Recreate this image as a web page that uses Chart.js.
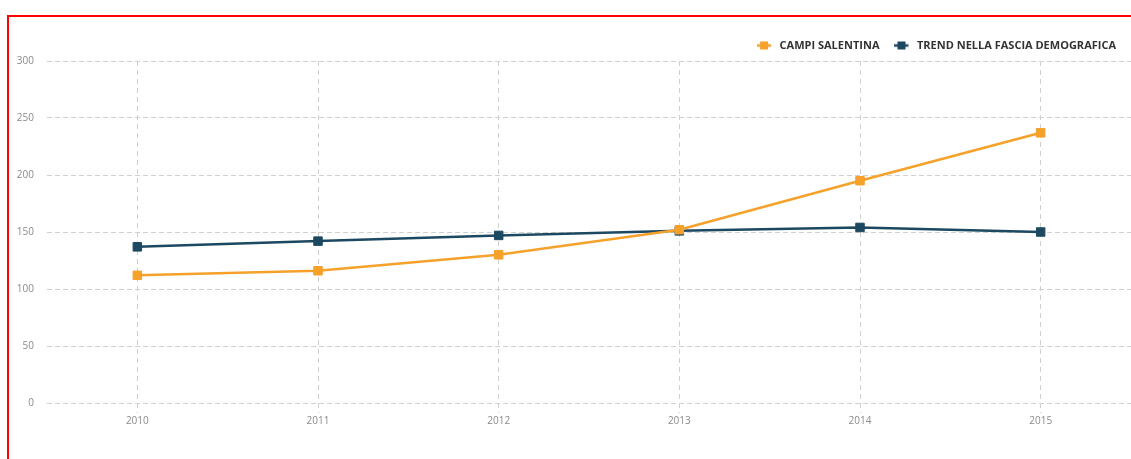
<!DOCTYPE html>
<html>
<head>
<meta charset="utf-8">
<script src="https://cdn.jsdelivr.net/npm/chart.js@4.4.1/dist/chart.umd.min.js"></script>
<style>
  html, body { margin: 0; padding: 0; background: #fff; overflow: hidden; }
  #wrap { position: absolute; left: 0; top: 0; width: 1131px; height: 459px; }
  #frame { position: absolute; left: 7px; top: 15px; width: 1130px; height: 450px;
           border: 2px solid #f00; border-right: none; border-bottom: none; pointer-events: none; }
</style>
</head>
<body>
<div id="wrap"><canvas id="trendChart"></canvas></div>
<div id="frame"></div>
<script>
// Dati
const anni = ['2010', '2011', '2012', '2013', '2014', '2015'];
const campiSalentina = [112, 116, 130, 152, 195, 237];
const trendFascia = [137, 142, 147, 151, 154, 150];
const yTicks = [0, 50, 100, 150, 200, 250, 300];

// Colori
const colori = {
    arancio: '#f5a12a',
    blu: '#1c4861',
    griglia: '#d0d0d0',
    testo: '#8a8a8a',
    legenda: '#333333',
};

// Icona legenda: linea + quadratino
function iconaLegenda(colore) {
    const c = document.createElement('canvas');
    c.width = 17;
    c.height = 10;
    const g = c.getContext('2d');
    g.strokeStyle = colore;
    g.lineWidth = 2.5;
    g.beginPath();
    g.moveTo(0, 5);
    g.lineTo(14, 5);
    g.stroke();
    g.fillStyle = colore;
    g.fillRect(3, 1, 8, 8);
    return c;
}

const ctx = document.getElementById('trendChart');

new Chart(ctx, {
    type: 'line',
    data: {
        labels: anni,
        datasets: [{
            label: 'CAMPI SALENTINA',
            data: campiSalentina,
            borderColor: colori.arancio,
            backgroundColor: colori.arancio,
            borderWidth: 2.5,
            pointStyle: 'rect',
            pointRadius: 6,
            pointBorderWidth: 1,
            tension: 0,
        }, {
            label: 'TREND NELLA FASCIA DEMOGRAFICA',
            data: trendFascia,
            borderColor: colori.blu,
            backgroundColor: colori.blu,
            borderWidth: 2.5,
            pointStyle: 'rect',
            pointRadius: 6,
            pointBorderWidth: 1,
            tension: 0,
        }]
    },
    options: {
        responsive: true,
        maintainAspectRatio: false,
        animation: false,
        layout: {
            autoPadding: false,
            padding: { top: 25, right: 0, bottom: 0, left: 0 }
        },
        plugins: {
            legend: {
                position: 'top',
                align: 'end',
                labels: {
                    color: colori.legenda,
                    usePointStyle: true,
                    pointStyleWidth: 17,
                    padding: 15,
                    font: { family: "'Open Sans', sans-serif", size: 11, weight: 'bold' },
                    generateLabels: (chart) => chart.data.datasets.map((ds, i) => ({
                        text: ds.label,
                        fontColor: colori.legenda,
                        pointStyle: iconaLegenda(ds.borderColor),
                        datasetIndex: i,
                        hidden: false,
                    })),
                }
            },
            tooltip: { enabled: false }
        },
        scales: {
            x: {
                offset: true,
                afterFit: (s) => {
                    s.height = 56;
                    s.paddingLeft = 0;
                    s.paddingRight = 0;
                },
                border: { display: false, dash: [5, 4] },
                grid: {
                    offset: false,
                    color: colori.griglia,
                    tickColor: colori.griglia,
                    tickLength: 10,
                    tickBorderDash: [5, 4],
                },
                ticks: {
                    color: colori.testo,
                    padding: 2,
                    font: { family: "'Open Sans', sans-serif", size: 10 },
                }
            },
            y: {
                min: 0,
                max: 300,
                afterFit: (s) => { s.width = 47; },
                afterBuildTicks: (s) => { s.ticks = yTicks.map(v => ({ value: v })); },
                border: { display: false, dash: [5, 3] },
                grid: {
                    color: colori.griglia,
                    drawTicks: false,
                },
                ticks: {
                    color: colori.testo,
                    padding: 13,
                    font: { family: "'Open Sans', sans-serif", size: 10 },
                }
            }
        }
    }
});
</script>
</body>
</html>
